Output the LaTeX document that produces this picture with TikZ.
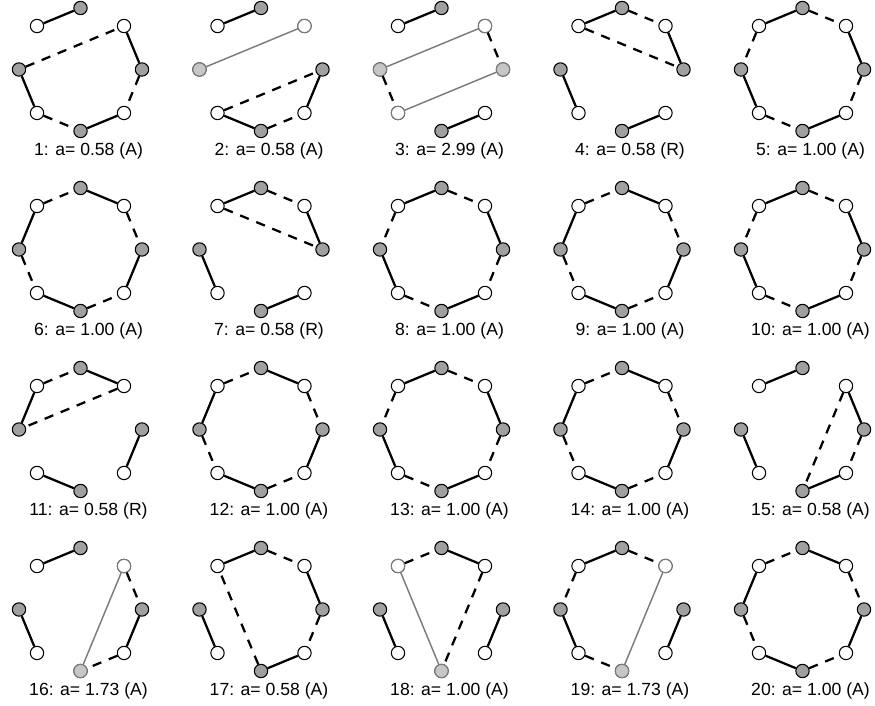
\documentclass[tikz,border=0pt]{standalone}
\usepackage{fontspec}
\setmainfont{Liberation Sans}
\usetikzlibrary{calc}
\definecolor{vtxGray}{HTML}{A0A0A0}
\definecolor{swapGray}{HTML}{7C7C7C}
\definecolor{fadeGray}{HTML}{C6C6C6}

\tikzset{
  vtx/.style={circle,draw=black,line width=0.8pt,minimum size=10pt,inner sep=0pt},
  evenvtx/.style={vtx,fill=vtxGray},
  oddvtx/.style={vtx,fill=white},
  fadevtx/.style={vtx,draw=swapGray},
  matched/.style={line width=1.7pt},
  unmatched/.style={line width=1.7pt,dash pattern=on 7pt off 6pt},
  swapline/.style={line width=1.1pt,draw=swapGray},
  caption/.style={font=\fontsize{13.2}{15}\selectfont}
}

\begin{document}
\begin{tikzpicture}[x=0.75pt,y=0.75pt]
  \useasboundingbox (0,0) rectangle (875,706);

  % vertices of the 20 octagons
  \foreach \p in {1,...,20} {
    \pgfmathtruncatemacro\col{mod(\p-1,5)}
    \pgfmathtruncatemacro\row{div(\p-1,5)}
    \coordinate (c\p) at ({80.5+180.5*\col},{636.5-180*\row});
    \foreach \k in {0,2,4,6}
      \node[evenvtx] (p\p-\k) at ($(c\p)+(\k*45:61.5)$) {};
    \foreach \k in {1,3,5,7}
      \node[oddvtx] (p\p-\k) at ($(c\p)+(\k*45:61.5)$) {};
  }

  % faded end points of the grey lines
  \foreach \p/\k/\f in {2/4/fadeGray,2/1/white,3/4/fadeGray,3/1/white,3/5/white,3/0/fadeGray,
                        16/1/white,16/6/fadeGray,18/3/white,18/6/fadeGray,19/1/white,19/6/fadeGray}
    \node[fadevtx,fill=\f] (f\p-\k) at (p\p-\k) {};

  % edges and captions
  \foreach \p/\val/\sol/\dsh in {
      1/0.58 (A)/{3/2,1/0,4/5,6/7}/{4/1,0/7,5/6},
      2/0.58 (A)/{3/2,5/6,7/0}/{5/0,6/7},
      3/2.99 (A)/{3/2,6/7}/{1/0,4/5},
      4/0.58 (R)/{3/2,1/0,4/5,6/7}/{2/1,3/0},
      5/1.00 (A)/{3/2,1/0,4/5,6/7}/{2/1,3/4,0/7,5/6},
      6/1.00 (A)/{2/1,3/4,0/7,5/6}/{3/2,1/0,4/5,6/7},
      7/0.58 (R)/{3/2,1/0,4/5,6/7}/{2/1,3/0},
      8/1.00 (A)/{3/2,1/0,4/5,6/7}/{2/1,3/4,0/7,5/6},
      9/1.00 (A)/{2/1,3/4,0/7,5/6}/{3/2,1/0,4/5,6/7},
      10/1.00 (A)/{3/2,1/0,4/5,6/7}/{2/1,3/4,0/7,5/6},
      11/0.58 (R)/{2/1,3/4,0/7,5/6}/{3/2,1/4},
      12/1.00 (A)/{2/1,3/4,0/7,5/6}/{3/2,1/0,4/5,6/7},
      13/1.00 (A)/{3/2,1/0,4/5,6/7}/{2/1,3/4,0/7,5/6},
      14/1.00 (A)/{2/1,3/4,0/7,5/6}/{3/2,1/0,4/5,6/7},
      15/0.58 (A)/{3/2,1/0,4/5,6/7}/{1/6,0/7},
      16/1.73 (A)/{3/2,4/5,0/7}/{1/0,7/6},
      17/0.58 (A)/{3/2,1/0,4/5,6/7}/{2/1,0/7,6/3},
      18/1.00 (A)/{2/1,4/5,0/7}/{3/2,1/6},
      19/1.73 (A)/{3/2,4/5,0/7}/{2/1,3/4,5/6},
      20/1.00 (A)/{2/1,3/4,0/7,5/6}/{3/2,1/0,4/5,6/7}} {
    \foreach \a/\b in \sol \draw[matched] (p\p-\a) -- (p\p-\b);
    \foreach \a/\b in \dsh \draw[unmatched] (p\p-\a) -- (p\p-\b);
    \node[caption] (cap\p) at ($(c\p)+(8,-81)$) {\p: a= \val};
  }

  % grey lines
  \draw[swapline] (f2-4) -- (f2-1);
  \draw[swapline] (f3-4) -- (f3-1);
  \draw[swapline] (f3-5) -- (f3-0);
  \draw[swapline] (f16-1) -- (f16-6);
  \draw[swapline] (f18-3) -- (f18-6);
  \draw[swapline] (f19-1) -- (f19-6);
\end{tikzpicture}
\end{document}
